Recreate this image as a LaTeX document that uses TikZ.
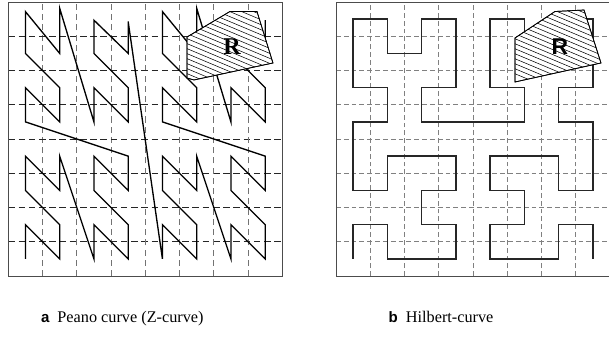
\documentclass[tikz,border=0pt]{standalone}
\usepackage{fontspec}
\setmainfont{Liberation Serif}
\setsansfont{Liberation Sans}
\usepackage{tikz}
\usetikzlibrary{positioning}

\begin{document}
\begin{tikzpicture}[x=1cm, y=1cm,
  frame/.style={draw=black!70, line width=0.8pt},
  hgrid/.style={draw=black!85, line width=0.75pt, dash pattern=on 5.5pt off 3pt},
  vgrid/.style={draw=black!55, line width=0.75pt, dash pattern=on 5pt off 3.5pt},
  lgrid/.style={draw=black!50, line width=0.5pt, dash pattern=on 4pt off 2.5pt},
  curve/.style={draw=black, line width=1.1pt, line join=miter},
  region/.style={draw=black, line width=0.6pt, fill=white},
  hatch/.style={draw=black, line width=0.45pt},
  tag/.style={font=\sffamily\bfseries\fontsize{12.5}{14}\selectfont, inner sep=0pt},
  caption/.style={font=\fontsize{13.5}{15}\selectfont, inner sep=0pt}
]
\useasboundingbox (-0.242,-1.869) rectangle (17.539,8.058);

% (a) Peano curve
\foreach \k in {1,...,7} {
  \draw[hgrid] (0,\k) -- (8,\k);
  \draw[vgrid] (\k,0) -- (\k,8);
}
\draw[curve] (0.5,0.5) -- (0.5,1.5) -- (1.5,0.5) -- (1.5,1.5) -- (0.5,2.5) -- (0.5,3.5) -- (1.5,2.5) -- (1.5,3.5)
  -- (2.5,0.5) -- (2.5,1.5) -- (3.5,0.5) -- (3.5,1.5) -- (2.5,2.5) -- (2.5,3.5) -- (3.5,2.5) -- (3.5,3.5)
  -- (0.5,4.5) -- (0.5,5.5) -- (1.5,4.5) -- (1.5,5.5) -- (0.5,6.5) -- (0.5,7.72) -- (1.5,6.5) -- (1.5,7.82)
  -- (2.5,4.5) -- (2.5,5.5) -- (3.5,4.5) -- (3.5,5.5) -- (2.5,6.5) -- (2.5,7.47) -- (3.5,6.5) -- (3.5,7.43)
  -- (4.5,0.5) -- (4.5,1.5) -- (5.5,0.5) -- (5.5,1.5) -- (4.5,2.5) -- (4.5,3.5) -- (5.5,2.5) -- (5.5,3.5)
  -- (6.5,0.5) -- (6.5,1.5) -- (7.5,0.5) -- (7.5,1.5) -- (6.5,2.5) -- (6.5,3.5) -- (7.5,2.5) -- (7.5,3.5)
  -- (4.5,4.5) -- (4.5,5.5) -- (5.5,4.5) -- (5.5,5.5) -- (4.5,6.5) -- (4.5,7.72) -- (5.5,6.5) -- (5.5,7.82)
  -- (6.5,4.5) -- (6.5,5.5) -- (7.5,4.5) -- (7.5,5.5) -- (6.5,6.5) -- (6.5,7.47) -- (7.5,6.5) -- (7.5,7.47);
\draw[region] (6.473,7.723) -- (7.261,7.723) -- (7.728,6.219) -- (5.422,5.723) -- (5.218,5.781) -- (5.218,6.978) -- cycle;
\begin{scope}
  \clip (6.473,7.723) -- (7.261,7.723) -- (7.728,6.219) -- (5.422,5.723) -- (5.218,5.781) -- (5.218,6.978) -- cycle;
  \foreach \y in {6.0,6.146,...,9.7}
    \draw[hatch] (5,\y) -- ++(3,-1.26);
\end{scope}
\draw[region, fill=none] (6.473,7.723) -- (7.261,7.723) -- (7.728,6.219) -- (5.422,5.723) -- (5.218,5.781) -- (5.218,6.978) -- cycle;
\node[font=\rmfamily\bfseries\fontsize{20}{20}\selectfont, inner sep=0pt] (ra) at (6.53,6.71) {R};
\draw[frame] (0,0) rectangle (8,8);

% (b) Hilbert curve
\begin{scope}[xshift=9.568cm]
\foreach \k in {1,...,7} {
  \draw[lgrid] (0,\k) -- (8,\k);
  \draw[lgrid] (\k,0) -- (\k,8);
}
\draw[curve, draw=black!85] (0.5,0.5) -- (0.5,1.5) -- (1.5,1.5) -- (1.5,0.5) -- (3.5,0.5) -- (3.5,1.5) -- (2.5,1.5) -- (2.5,2.5)
  -- (3.5,2.5) -- (3.5,3.5) -- (1.5,3.5) -- (1.5,2.5) -- (0.5,2.5) -- (0.5,4.5) -- (1.5,4.5) -- (1.5,5.5)
  -- (0.5,5.5) -- (0.5,7.5) -- (1.5,7.5) -- (1.5,6.5) -- (2.5,6.5) -- (2.5,7.5) -- (3.5,7.5) -- (3.5,5.5)
  -- (2.5,5.5) -- (2.5,4.5) -- (5.5,4.5) -- (5.5,5.5) -- (4.5,5.5) -- (4.5,7.5) -- (5.5,7.5) -- (5.5,6.5)
  -- (6.5,6.5) -- (6.5,7.5) -- (7.5,7.5) -- (7.5,5.5) -- (6.5,5.5) -- (6.5,4.5) -- (7.5,4.5) -- (7.5,2.5)
  -- (6.5,2.5) -- (6.5,3.5) -- (4.5,3.5) -- (4.5,2.5) -- (5.5,2.5) -- (5.5,1.5) -- (4.5,1.5) -- (4.5,0.5)
  -- (6.5,0.5) -- (6.5,1.5) -- (7.5,1.5) -- (7.5,0.5);
\draw[region] (6.394,7.723) -- (7.241,7.766) -- (7.737,6.219) -- (5.226,5.664) -- (5.226,6.949) -- cycle;
\begin{scope}
  \clip (6.394,7.723) -- (7.241,7.766) -- (7.737,6.219) -- (5.226,5.664) -- (5.226,6.949) -- cycle;
  \foreach \y in {6.0,6.146,...,9.7}
    \draw[hatch] (5,\y) -- ++(3,-1.26);
\end{scope}
\draw[region, fill=none] (6.394,7.723) -- (7.241,7.766) -- (7.737,6.219) -- (5.226,5.664) -- (5.226,6.949) -- cycle;
\node[font=\sffamily\bfseries\fontsize{19}{19}\selectfont, inner sep=0pt] (rb) at (6.54,6.71) {R};
\draw[frame] (0,0) rectangle (8,8);
\end{scope}

% captions
\node[tag, anchor=base west] (taga) at (0.95,-1.35) {a};
\node[caption, base right=2.2mm of taga] (capa) {Peano curve (Z-curve)};
\node[tag, anchor=base west] (tagb) at (11.1,-1.35) {b};
\node[caption, base right=2.2mm of tagb] (capb) {Hilbert-curve};
\end{tikzpicture}
\end{document}
